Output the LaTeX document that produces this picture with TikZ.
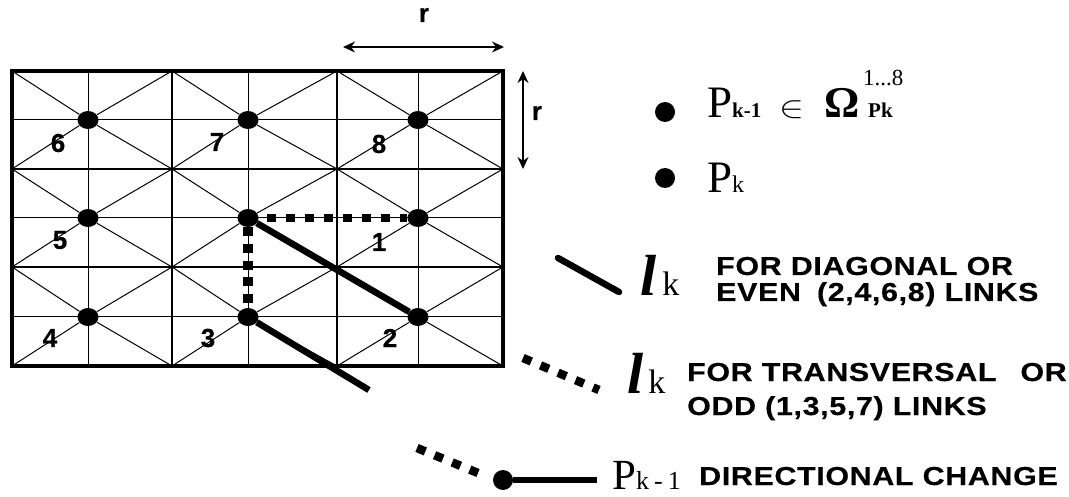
\documentclass[tikz,border=0pt]{standalone}
\usepackage{graphicx}
\usepackage{fontspec}
\setmainfont{Liberation Serif}
\setsansfont{Liberation Sans}
\newfontfamily\capfont[FakeStretch=1.17,LetterSpace=2.5,FakeBold=0.4]{Liberation Sans}
\newfontfamily\numfont[FakeBold=0.6]{Liberation Sans}
\usetikzlibrary{arrows.meta,shapes.geometric}
\newcommand{\fsz}[1]{\fontsize{#1}{#1}\selectfont}
\tikzset{
  % --- grid ------------------------------------------------------------------
  griddot/.style={ellipse,fill=black,inner sep=0pt,minimum width=21pt,minimum height=18pt},
  keydot/.style={circle,fill=black,inner sep=0pt,minimum size=20pt},
  thinl/.style={black,line width=1pt},
  outerl/.style={black,line width=4pt},
  innerl/.style={black,line width=2.4pt},
  % --- links -----------------------------------------------------------------
  solidl/.style={black,line width=6.5pt},
  dotl/.style={black,line width=8.5pt,dash pattern=on 9pt off 10pt},
  dimarrow/.style={{Stealth[length=12pt,width=11pt]}-{Stealth[length=12pt,width=11pt]},line width=1.4pt},
  % --- text ------------------------------------------------------------------
  numlab/.style={font=\numfont\bfseries\fsz{26},inner sep=0pt},
  caplab/.style={font=\capfont\bfseries\fsz{26},inner sep=0pt,anchor=base west},
  serlab/.style={inner sep=0pt,anchor=base west},
}
\begin{document}
\begin{tikzpicture}[x=1pt,y=-1pt]
  \useasboundingbox (0,0) rectangle (1069,497);

  % corners of the cells
  \foreach \cx/\xval in {0/12,1/172,2/337,3/503}
    \foreach \ry/\yval in {0/71,1/169,2/267,3/366}
      \coordinate (c\cx\ry) at (\xval,\yval);

  % thin lines of every cell, then its centre point
  \foreach \cx/\nx/\xval in {0/1/88,1/2/248,2/3/418}
    \foreach \ry/\ny/\yval in {0/1/120,1/2/218,2/3/317} {
      \node[griddot] (p\cx\ry) at (\xval,\yval) {};
      \draw[thinl] (c\cx\ry) -- (p\cx\ry) -- (c\nx\ny);
      \draw[thinl] (c\nx\ry) -- (p\cx\ry) -- (c\cx\ny);
      \draw[thinl] (c\cx\ry -| p\cx\ry) -- (c\cx\ny -| p\cx\ry);
      \draw[thinl] (p\cx\ry -| c\cx\ry) -- (p\cx\ry -| c\nx\ry);
    }

  \draw[innerl] (c01) -- (c31);
  \draw[innerl] (c02) -- (c32);
  \draw[innerl] (c10) -- (c13);
  \draw[innerl] (c20) -- (c23);
  \draw[outerl] (c00) rectangle (c33);

  % numbers
  \node[numlab] (n6) at (58,143)  {6};
  \node[numlab] (n7) at (217,142) {7};
  \node[numlab] (n8) at (379,144) {8};
  \node[numlab] (n5) at (60,240)  {5};
  \node[numlab] (n1) at (379,242) {1};
  \node[numlab] (n4) at (50,338)  {4};
  \node[numlab] (n3) at (208,338) {3};
  \node[numlab] (n2) at (390,338) {2};

  % links
  \coordinate (endl) at (369,390);
  \draw[solidl] (p11) -- (p22);
  \draw[solidl] (p12) -- (endl);
  \draw[dotl,dash phase=11pt] (p11) -- (p21);
  \draw[dotl,line width=10pt,dash pattern=on 9pt off 7.7pt] (p11) -- (p12);

  % r
  \coordinate (rl) at (343,47);
  \coordinate (rr) at (504,47);
  \coordinate (rt) at (523,71);
  \coordinate (rb) at (523,169);
  \draw[dimarrow] (rl) -- (rr);
  \draw[dimarrow] (rt) -- (rb);
  \node[numlab] (rtop)  at (424,15)  {r};
  \node[numlab] (rside) at (537,113) {r};

  % legend
  \node[keydot] (k1) at (665,112) {};
  \node[keydot] (k2) at (665,178) {};
  \node[serlab] (pk1) at (707,118) {\fsz{45}P\fsz{21}\textbf{k-1}};
  \node[serlab] (in)  at (779,118) {\scalebox{1.8}[1.5]{\fsz{20}$\in$}};
  \node[serlab] (om)  at (824,118) {\fsz{44}\textbf{Ω}};
  \node[serlab] (sup) at (863,86)  {\fsz{23}1...8};
  \node[serlab] (sub) at (868,118) {\fsz{21}\textbf{Pk}};
  \node[serlab] (pk)  at (707,193) {\fsz{45}P\fsz{24}k};

  \coordinate (s1) at (558,258);
  \coordinate (s2) at (619,292);
  \draw[solidl,line cap=round] (s1) -- (s2);
  \node[serlab] (lk1) at (640,295) {\fsz{58}\textbf{\textit{l}}\hspace{6pt}\fsz{34}k};
  \node[caplab] (d1) at (716,275) {FOR DIAGONAL OR};
  \node[caplab] (d2) at (716,301) {EVEN\hspace{16pt}(2,4,6,8) LINKS};

  \coordinate (t1) at (523,358);
  \coordinate (t2) at (599,390);
  \draw[dotl] (t1) -- (t2);
  \node[serlab] (lk2) at (627,393) {\fsz{58}\textbf{\textit{l}}\hspace{5pt}\fsz{34}k};
  \node[caplab] (e1) at (687,381) {FOR TRANSVERSAL\hspace{24pt}OR};
  \node[caplab] (e2) at (687,415) {ODD (1,3,5,7) LINKS};

  \coordinate (u1) at (417,448);
  \coordinate (u2) at (478,473);
  \coordinate (u3) at (597,480);
  \draw[dotl] (u1) -- (u2);
  \node[keydot] (k3) at (503,480) {};
  \draw[solidl] (k3) -- (u3);
  \node[serlab] (pk3) at (612,489) {\fsz{43}P\fsz{26}k\hspace{5pt}-\hspace{5pt}1};
  \node[caplab] (f1) at (699,485) {DIRECTIONAL CHANGE};
\end{tikzpicture}
\end{document}
